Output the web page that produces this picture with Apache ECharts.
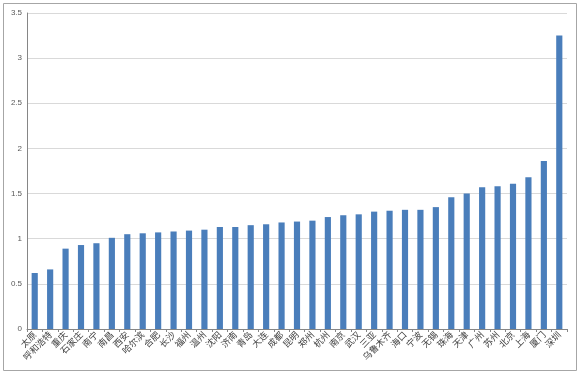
<!DOCTYPE html>
<html>
<head>
<meta charset="utf-8">
<script src="https://cdn.jsdelivr.net/npm/echarts@6/dist/echarts.min.js"></script>
<style>html,body{margin:0;padding:0;background:#fff;}#c{width:581px;height:375px;}</style>
</head>
<body>
<div id="c"></div>
<script>
const categories = ['太原','呼和浩特','重庆','石家庄','南宁','南昌','西安','哈尔滨','合肥','长沙','福州','温州','沈阳','济南','青岛','大连','成都','昆明','郑州','杭州','南京','武汉','三亚','乌鲁木齐','海口','宁波','无锡','珠海','天津','广州','苏州','北京','上海','厦门','深圳'];
const values = [0.62,0.66,0.89,0.93,0.95,1.01,1.05,1.06,1.07,1.08,1.09,1.10,1.13,1.13,1.15,1.16,1.18,1.19,1.20,1.24,1.26,1.27,1.30,1.31,1.32,1.32,1.35,1.46,1.50,1.57,1.58,1.61,1.68,1.86,3.25];
const yTicks = [0,0.5,1,1.5,2,2.5,3,3.5];

const chart = echarts.init(document.getElementById('c'));
chart.setOption({
  animation: false,
  graphic: [{type:'rect', shape:{x:3.5,y:3.5,width:573,height:367}, style:{fill:null, stroke:'#a6a6a6', lineWidth:1}, silent:true}],
  grid: {left: 27, right: 14, top: 13, bottom: 46},
  xAxis: {
    type: 'category',
    data: categories,
    axisLine: {lineStyle: {color: '#868686'}},
    axisTick: {show: true, length: 3, interval: 0, lineStyle: {color: '#868686'}},
    axisLabel: {interval: 0, rotate: 45, fontSize: 9, color: '#404040', margin: 4, fontFamily: 'Noto Sans CJK SC'}
  },
  yAxis: {
    type: 'value',
    min: 0, max: 3.5, interval: 0.5,
    axisLine: {show: true, lineStyle: {color: '#868686'}},
    axisTick: {show: false},
    splitLine: {lineStyle: {color: '#d9d9d9'}},
    axisLabel: {fontSize: 8, color: '#595959', margin: 5, fontFamily: 'Liberation Sans',
      formatter: v => yTicks.includes(v) ? String(v) : ''}
  },
  series: [{type: 'bar', data: values, barWidth: '40%', itemStyle: {color: '#4a7ebb'}}]
});
</script>
</body>
</html>
